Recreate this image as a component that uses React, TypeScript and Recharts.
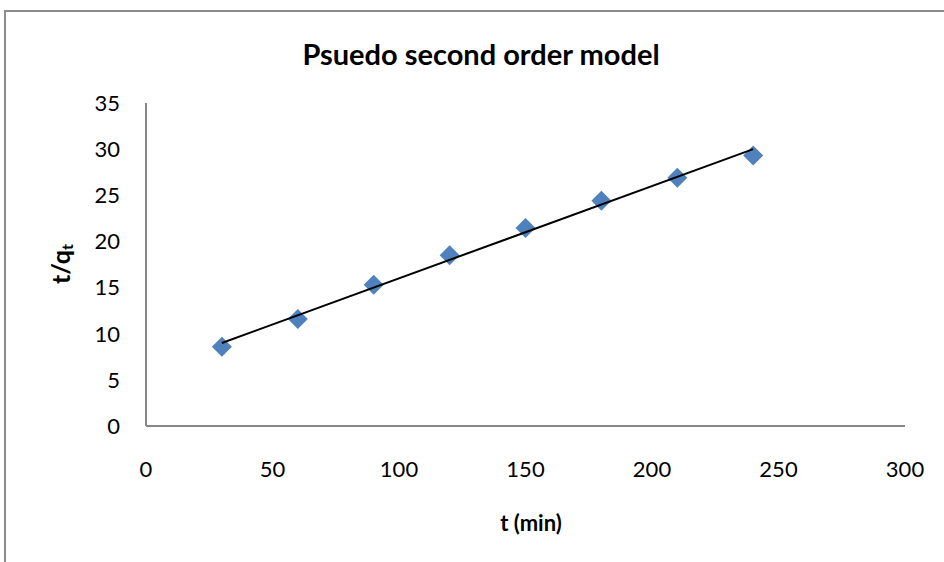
import { Label, Scatter, ScatterChart, XAxis, YAxis } from "recharts";

// t (min) values
const times = [30, 60, 90, 120, 150, 180, 210, 240];
// t/qt values
const tOverQt = [8.6, 11.6, 15.3, 18.5, 21.45, 24.4, 26.9, 29.3];
// linear trendline end points
const trendX = [30, 240];
const trendY = [9.0, 30.0];

const xTicks = [0, 50, 100, 150, 200, 250, 300];
const yTicks = [0, 5, 10, 15, 20, 25, 30, 35];

const points = times.map((t, i) => ({ x: t, y: tOverQt[i] }));
const trend = trendX.map((t, i) => ({ x: t, y: trendY[i] }));

const FONT = "Lato, 'Open Sans', sans-serif";
const MARKER = "#4F81BD";
const AXIS = "#868686";

const Diamond = (props: any) => {
  const { cx, cy } = props;
  const r = 10;
  return (
    <path
      d={`M${cx},${cy - r} L${cx + r},${cy} L${cx},${cy + r} L${cx - r},${cy} Z`}
      fill={MARKER}
    />
  );
};

const YLabel = () => (
  <text
    x={60}
    y={264}
    transform="rotate(-90 60 264)"
    textAnchor="middle"
    dominantBaseline="central"
    fontFamily={FONT}
    fontWeight="bold"
    fontSize={25}
    fill="#000"
  >
    t/q<tspan fontSize={16} dy={6}>t</tspan>
  </text>
);

const XLabel = () => (
  <text
    x={531}
    y={522}
    textAnchor="middle"
    dominantBaseline="central"
    fontFamily={FONT}
    fontWeight="bold"
    fontSize={22}
    fill="#000"
  >
    t (min)
  </text>
);

export default function App() {
  return (
    <div style={{ position: "absolute", left: 0, top: 0, width: 944, height: 562, background: "#fff", overflow: "hidden" }}>
      <div
        style={{
          position: "absolute",
          left: 4,
          top: 10,
          width: 960,
          height: 600,
          border: "2px solid #8c8c8c",
        }}
      />
      <div
        style={{
          position: "absolute",
          left: 0,
          width: 962,
          top: 36,
          textAlign: "center",
          fontFamily: FONT,
          fontWeight: "bold",
          fontSize: 29,
          lineHeight: "36px",
          color: "#000",
        }}
      >
        Psuedo second order model
      </div>
      <div style={{ position: "absolute", left: 0, top: 0 }}>
        <ScatterChart width={944} height={562} margin={{ top: 103, right: 39, bottom: 0, left: 0 }}>
          <XAxis
            type="number"
            dataKey="x"
            domain={[0, 300]}
            ticks={xTicks}
            tickLine={false}
            axisLine={{ stroke: AXIS, strokeWidth: 2 }}
            tick={{ fontSize: 22, fontFamily: FONT, fill: "#000" }}
            tickMargin={29}
            height={136}
            interval={0}
          >
            <Label content={<XLabel />} />
          </XAxis>
          <YAxis
            type="number"
            dataKey="y"
            domain={[0, 35]}
            ticks={yTicks}
            tickLine={false}
            axisLine={{ stroke: AXIS, strokeWidth: 2 }}
            tick={{ fontSize: 22, fontFamily: FONT, fill: "#000" }}
            tickMargin={20}
            width={146}
            interval={0}
          >
            <Label content={<YLabel />} />
          </YAxis>
          <Scatter data={points} shape={<Diamond />} isAnimationActive={false} />
          <Scatter
            data={trend}
            line={{ stroke: "#000", strokeWidth: 2 }}
            shape={() => null}
            isAnimationActive={false}
          />
        </ScatterChart>
      </div>
    </div>
  );
}
